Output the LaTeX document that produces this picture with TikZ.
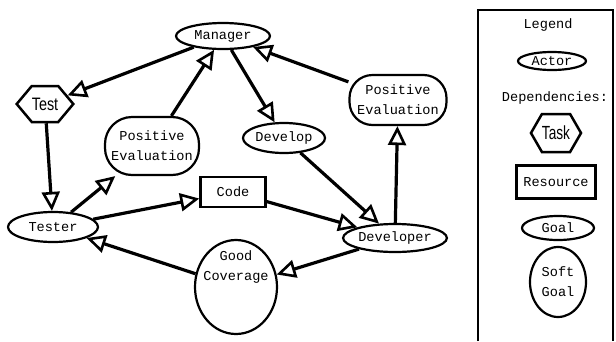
\documentclass[tikz,border=0pt]{standalone}
\usepackage{graphicx}
\usepackage{fontspec}
\setmonofont{Liberation Mono}
\newfontfamily\narrowsf{Liberation Sans}
\usetikzlibrary{arrows.meta,shapes.geometric,shapes.symbols}
\begin{document}
\begin{tikzpicture}[x=1pt,y=-1pt,
  every node/.style={font=\ttfamily\fontsize{13.6}{20}\selectfont, inner sep=0pt, line width=2.2pt},
  actor/.style={draw, ellipse},
  goal/.style={draw, ellipse},
  softgoal/.style={draw, ellipse, align=center},
  resource/.style={draw, rectangle, line width=2.5pt},
  task/.style={draw, signal, signal to=west and east, line width=2.5pt},
  evalbox/.style={draw, rectangle, align=center},
  dep/.style={line width=3.2pt, -{Triangle[open,length=19pt,width=18pt,line width=2.6pt]}}]
\useasboundingbox (0,0) rectangle (616,341);
\node [actor, minimum width=94pt, minimum height=26pt] (mgr) at (223,36) {Manager};
\node [task, minimum width=55pt, minimum height=36pt, signal pointer angle=100,
  font=\narrowsf\fontsize{18}{18}\selectfont] (test) at (45,104) {\scalebox{0.8}[1]{Test}};
\node [evalbox, rounded corners=27pt, minimum width=94pt, minimum height=58pt] (evall) at (152,146) {Positive\\Evaluation};
\node [goal, minimum width=82pt, minimum height=30pt] (dev) at (284,138) {Develop};
\node [evalbox, rounded corners=23pt, minimum width=97pt, minimum height=50pt] (evalr) at (398,100) {Positive\\Evaluation};
\node [resource, minimum width=65pt, minimum height=30pt] (code) at (233,192) {Code};
\node [actor, minimum width=90pt, minimum height=30pt] (tester) at (53,227) {Tester};
\node [softgoal, minimum width=82pt, minimum height=94pt] (cov) at (236,287) {};
\node [align=center] (covtext) at (236,267) {Good\\Coverage};
\node [actor, minimum width=96pt, minimum height=28pt] (devr) at (395,238) {Developer};
\draw [dep] (mgr) -- (test);
\draw [dep] (evall) -- (mgr);
\draw [dep] (mgr) -- (dev);
\draw [dep] (evalr) -- (mgr);
\draw [dep] (devr) -- (evalr);
\draw [dep] (dev) -- (devr);
\draw [dep] (code) -- (devr);
\draw [dep] (tester) -- (code);
\draw [dep] (tester) -- (evall);
\draw [dep] (test) -- (tester);
\draw [dep] (cov) -- (tester);
\draw [dep] (devr) -- (cov);
\draw [line width=2.5pt] (478,341) -- (478,10) -- (613,10) -- (613,341);
\node (legend) at (548,25) {Legend};
\node [actor, minimum width=68pt, minimum height=18pt] (lactor) at (552,61) {Actor};
\node (deps) at (555,98) {Dependencies:};
\node [task, minimum width=50pt, minimum height=38pt, signal pointer angle=120,
  font=\narrowsf\fontsize{19}{19}\selectfont] (ltask) at (556,133) {\scalebox{0.72}[1]{Task}};
\node [resource, minimum width=79pt, minimum height=33pt] (lres) at (556,182) {Resource};
\node [goal, minimum width=72pt, minimum height=24pt] (lgoal) at (558,228) {Goal};
\node [softgoal, minimum width=56pt, minimum height=70pt] (lsoft) at (558,282) {Soft\\Goal};
\end{tikzpicture}
\end{document}
